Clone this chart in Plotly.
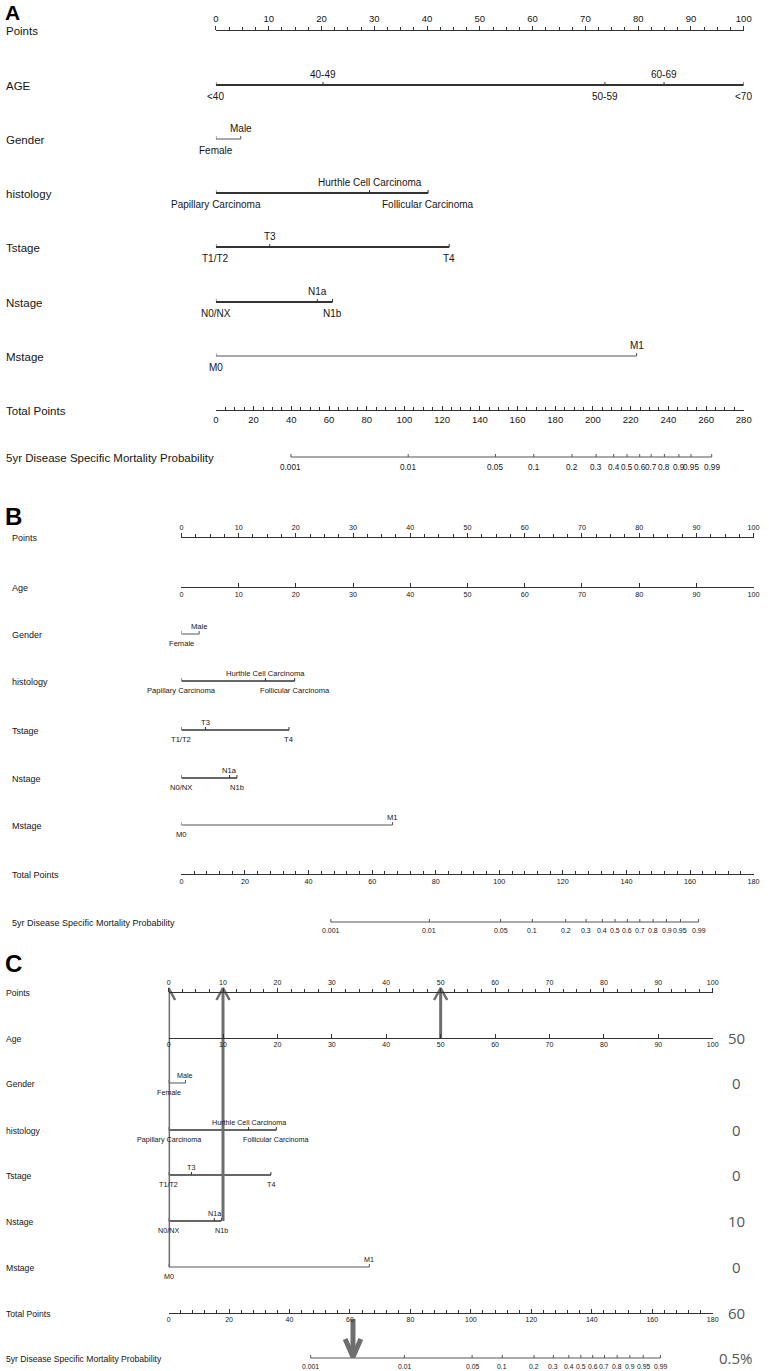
import plotly.graph_objects as go

W, H = 769, 1371
NARROW = "Liberation Sans, Arial, Helvetica, sans-serif"
INK = "#151515"
LINE = "#333333"
GUIDE = "#6e6e6e"

# ---------------- data ----------------
row_names_a = ["Points", "AGE", "Gender", "histology", "Tstage", "Nstage", "Mstage",
               "Total Points", "5yr Disease Specific Mortality Probability"]
row_names_bc = ["Points", "Age", "Gender", "histology", "Tstage", "Nstage", "Mstage",
                "Total Points", "5yr Disease Specific Mortality Probability"]

age_levels = ["<40", "40-49", "50-59", "60-69", "<70"]
gender_levels = ["Female", "Male"]
histology_levels = ["Papillary Carcinoma", "Hurthle Cell Carcinoma", "Follicular Carcinoma"]
tstage_levels = ["T1/T2", "T3", "T4"]
nstage_levels = ["N0/NX", "N1a", "N1b"]
mstage_levels = ["M0", "M1"]

# panel A: points per level
a_age_points = [0, 20.3, 73.7, 84.9, 100]
a_gender_points = [0, 4.7]
a_histology_points = [0, 29.1, 40.2]
a_tstage_points = [0, 10.2, 44.2]
a_nstage_points = [0, 19.2, 22.1]
a_mstage_points = [0, 79.7]
a_total_max = 280

prob_labels = ["0.001", "0.01", "0.05", "0.1", "0.2", "0.3", "0.4", "0.5",
               "0.6", "0.7", "0.8", "0.9", "0.95", "0.99"]
a_prob_total = [39.8, 102.0, 148.3, 168.6, 188.9, 201.7, 211.0, 218.1,
                224.8, 230.9, 237.9, 245.6, 252.0, 263.0]

# panels B and C (same model, continuous age)
bc_gender_points = [0, 3.1]
bc_histology_points = [0, 14.7, 19.8]
bc_tstage_points = [0, 4.2, 18.8]
bc_nstage_points = [0, 8.4, 9.7]
bc_mstage_points = [0, 36.9]
bc_total_max = 180
bc_prob_total = [47.0, 78.0, 100.4, 110.4, 120.9, 127.3, 132.4, 136.4,
                 140.3, 144.2, 148.4, 152.6, 157.0, 162.7]

# panel C worked example
c_example_points = [50, 0, 0, 0, 10, 0]          # Age, Gender, histology, Tstage, Nstage, Mstage
c_example_text = ["50", "0", "0", "0", "10", "0", "60", "0.5%"]
c_arrow_total = 61

# ---------------- layout of the three panels ----------------
PANELS = {
    "A": dict(p0=216, p1=751.5, rows=[30, 85, 139, 193, 247, 302, 356, 410, 457],
              letter_y=0, letter_fs=21, label_x=1, name_fs=11.5, tick_fs=9.5, cat_fs=10,
              prob_fs=8.2, lw=1.8, off=5, total_dtick=20, total_minor=5),
    "B": dict(p0=181, p1=761.5, rows=[537, 587, 634, 681, 730, 778, 825, 874, 922],
              letter_y=502, letter_fs=24, label_x=7, name_fs=9, tick_fs=7.2, cat_fs=7.6,
              prob_fs=7, lw=1.3, off=3.5, total_dtick=20, total_minor=4),
    "C": dict(p0=168, p1=720, rows=[992, 1038, 1083, 1130, 1175, 1221, 1267, 1313, 1358],
              letter_y=949, letter_fs=24, label_x=1, name_fs=8.6, tick_fs=7, cat_fs=7.2,
              prob_fs=6.8, lw=1.3, off=3.5, total_dtick=20, total_minor=4),
}

fig = go.Figure()
axes = {}


def add_axis(cfg, ypix, rng, side, dtick, minor=None):
    n = len(axes) + 1
    key = "xaxis" if n == 1 else f"xaxis{n}"
    ref = "x" if n == 1 else f"x{n}"
    ticks = "outside" if side == "top" else "inside"
    ax = dict(domain=[cfg["p0"] / W, cfg["p1"] / W], range=rng, anchor="free",
              position=1 - ypix / H, side=side, showline=True, linecolor=LINE,
              linewidth=cfg["lw"] * 0.8, ticks=ticks, ticklen=4, tickwidth=1, tickcolor=LINE,
              tick0=0, dtick=dtick, showgrid=False, zeroline=False, fixedrange=True,
              tickfont=dict(family=NARROW, size=cfg["tick_fs"], color=INK))
    if minor:
        ax["minor"] = dict(dtick=minor, tick0=0, ticks=ticks, ticklen=2.5, tickwidth=1,
                           tickcolor=LINE, showgrid=False)
    axes[key] = ax
    fig.add_trace(go.Scatter(x=[None], y=[None], xaxis=ref, yaxis="y",
                             showlegend=False, hoverinfo="skip"))
    return ref


def line(ref, xs, ys, color=LINE, width=1.5):
    fig.add_trace(go.Scatter(x=xs, y=ys, mode="lines", xaxis=ref, yaxis="y",
                             line=dict(color=color, width=width),
                             showlegend=False, hoverinfo="skip"))


def label(ref, x, y, text, size, anchor, shift):
    fig.add_annotation(x=x, y=y, xref=ref, yref="y", text=text, showarrow=False,
                       yanchor=anchor, yshift=shift, borderpad=0,
                       font=dict(family=NARROW, size=size, color=INK))


def cat_row(cfg, ref, ypix, levels, pts, width, color=LINE):
    line(ref, [min(pts), max(pts)], [ypix, ypix], color, width)
    tx, ty = [], []
    for v in pts:
        tx += [v, v, None]
        ty += [ypix, ypix - 3, None]
    line(ref, tx, ty, color, 1)
    order = sorted(range(len(pts)), key=lambda i: pts[i])
    for k, i in enumerate(order):
        if k % 2:
            label(ref, pts[i], ypix, levels[i], cfg["cat_fs"], "bottom", cfg["off"] - 1)
        else:
            label(ref, pts[i], ypix, levels[i], cfg["cat_fs"], "top", -cfg["off"])


def prob_row(cfg, ref, ypix, pos):
    line(ref, [pos[0], pos[-1]], [ypix, ypix], "#555555", 1)
    tx, ty = [], []
    for v in pos:
        tx += [v, v, None]
        ty += [ypix, ypix - 3, None]
    line(ref, tx, ty, "#555555", 1)
    for v, t in zip(pos, prob_labels):
        label(ref, v, ypix, t, cfg["prob_fs"], "top", -cfg["off"])


def panel(letter, names, cats, total_max, prob_pos, continuous_age):
    cfg = PANELS[letter]
    rows = cfg["rows"]
    fig.add_annotation(x=1 / W, y=cfg["letter_y"], xref="paper", yref="y", text=f"<b>{letter}</b>",
                       showarrow=False, xanchor="left", yanchor="top", borderpad=0,
                       font=dict(family="Liberation Sans, Arial, sans-serif",
                                 size=cfg["letter_fs"], color="#000"))
    for name, y in zip(names, rows):
        fig.add_annotation(x=cfg["label_x"] / W, y=y + 1, xref="paper", yref="y", text=name,
                           showarrow=False, xanchor="left", yanchor="middle",
                           font=dict(family=NARROW, size=cfg["name_fs"], color=INK))
    pref = add_axis(cfg, rows[0], [0, 100], "top", 10, 2.5)
    if continuous_age:
        add_axis(cfg, rows[1], [0, 100], "bottom", 10)
    for (levels, pts, thin), y in zip(cats, rows[len(rows) - 2 - len(cats):len(rows) - 2]):
        cat_row(cfg, pref, y, levels, pts, 1 if thin else cfg["lw"], "#555555" if thin else LINE)
    tref = add_axis(cfg, rows[7], [0, total_max], "bottom", cfg["total_dtick"], cfg["total_minor"])
    prob_row(cfg, tref, rows[8], prob_pos)
    return pref, tref


panel("A", row_names_a,
      [(age_levels, a_age_points, False),
       (gender_levels, a_gender_points, True),
       (histology_levels, a_histology_points, False),
       (tstage_levels, a_tstage_points, False),
       (nstage_levels, a_nstage_points, False),
       (mstage_levels, a_mstage_points, True)],
      a_total_max, a_prob_total, False)

bc_cats = [(gender_levels, bc_gender_points, True),
           (histology_levels, bc_histology_points, False),
           (tstage_levels, bc_tstage_points, False),
           (nstage_levels, bc_nstage_points, False),
           (mstage_levels, bc_mstage_points, True)]
panel("B", row_names_bc, bc_cats, bc_total_max, bc_prob_total, True)
c_pref, c_tref = panel("C", row_names_bc, bc_cats, bc_total_max, bc_prob_total, True)

# ---------------- worked example overlay on panel C ----------------
c_rows = PANELS["C"]["rows"]
for v in sorted(set(c_example_points)):
    lowest = max(c_rows[1 + i] for i, p in enumerate(c_example_points) if p == v)
    line(c_pref, [v, v], [c_rows[0] - 3, lowest], GUIDE, 3)
    line(c_pref, [v - 1.2, v, v + 1.2], [c_rows[0] + 8, c_rows[0] - 4, c_rows[0] + 8], GUIDE, 2.5)

line(c_tref, [c_arrow_total, c_arrow_total], [c_rows[7] + 6, c_rows[8] - 2], GUIDE, 5)
line(c_tref, [c_arrow_total - 2.6, c_arrow_total, c_arrow_total + 2.6],
     [c_rows[8] - 19, c_rows[8] - 1, c_rows[8] - 19], GUIDE, 5)

for t, y in zip(c_example_text, c_rows[1:]):
    fig.add_annotation(x=744 / W, y=y, xref="paper", yref="y", text=t, showarrow=False,
                       xanchor="center", yanchor="middle",
                       font=dict(family="Open Sans, Noto Sans, sans-serif", size=15, color="#555555"))

fig.update_layout(
    width=W, height=H,
    margin=dict(l=0, r=0, t=0, b=0),
    paper_bgcolor="white", plot_bgcolor="rgba(0,0,0,0)",
    showlegend=False,
    yaxis=dict(domain=[0, 1], range=[H, 0], visible=False, fixedrange=True),
    **axes,
)

fig.write_html("out.html", config={"displayModeBar": False},
               post_script="document.body.style.margin='0';document.body.style.overflow='hidden';")
